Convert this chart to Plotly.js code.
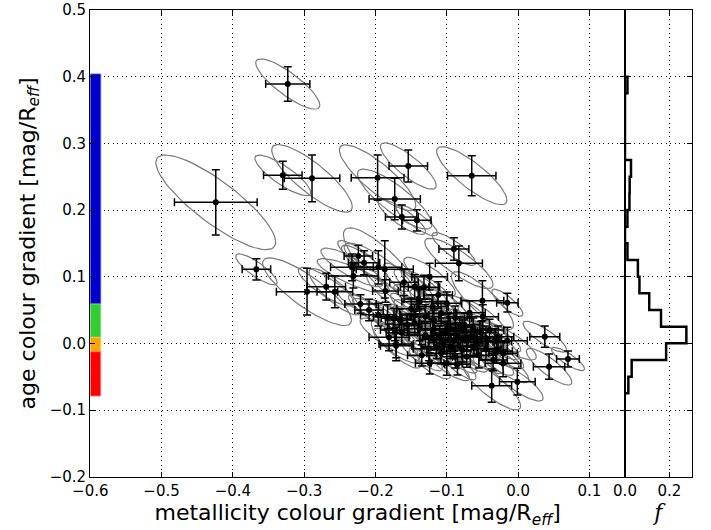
<!DOCTYPE html>
<html><head><meta charset="utf-8">
<script src="https://cdn.plot.ly/plotly-3.0.1.min.js"></script>
<style>html,body{margin:0;padding:0;background:#fff}#chart{width:711px;height:530px}</style>
</head><body><div id="chart"></div>
<script>
// metallicity colour gradient (x) and age colour gradient (y) per galaxy
const metalGrad = [-0.323,-0.330,-0.289,-0.197,-0.154,-0.173,-0.065,-0.424,-0.163,-0.142,
  -0.090,-0.083,-0.367,-0.296,-0.269,-0.257,-0.224,-0.216,-0.233,-0.196,
  -0.187,-0.231,-0.186,-0.221,-0.209,-0.196,-0.181,-0.171,-0.050,-0.015,
  0.0375,0.070,0.0435,-0.001,-0.037,-0.021,-0.085,-0.171,-0.160,-0.124,
  -0.112,-0.145,-0.132,-0.140,-0.138,-0.183,-0.166,-0.174,-0.173,-0.163,
  -0.145,-0.145,-0.0495,-0.063,-0.028,-0.021,-0.015,-0.035,-0.100,-0.124,
  -0.072,-0.114,-0.130,-0.120,-0.110,-0.102,-0.095,-0.090,-0.085,-0.078,
  -0.072,-0.066,-0.058,-0.052,-0.045,-0.040,-0.033,-0.105,-0.118,-0.138,
  -0.082,-0.125,-0.108,-0.095,-0.088,-0.078,-0.062,-0.055,-0.045,-0.030,
  -0.135,-0.130,-0.118,-0.108,-0.098,-0.088,-0.075,-0.068,-0.155,-0.120,
  -0.100,-0.150];
const ageGrad = [0.389,0.252,0.2475,0.2485,0.266,0.2165,0.2515,0.2115,0.1895,0.1845,
  0.1415,0.120,0.111,0.0775,0.085,0.0775,0.131,0.121,0.114,0.114,
  0.111,0.101,0.0785,0.059,0.050,0.043,0.009,-0.001,0.064,0.061,
  0.010,-0.0235,-0.035,-0.0575,-0.0635,-0.030,-0.0315,-0.0035,0.0915,0.100,
  0.0725,0.085,0.084,0.0665,0.0625,0.040,0.035,0.0375,0.020,0.016,
  0.030,0.0425,0.040,0.020,0.010,-0.015,0.004,-0.025,-0.030,-0.030,
  -0.020,-0.005,0.012,0.020,0.008,0.015,0.022,0.004,0.012,0.018,
  0.006,0.010,0.002,0.016,0.008,0.020,0.003,0.001,0.006,0.022,
  0.024,-0.008,-0.015,-0.005,-0.020,-0.010,-0.004,-0.018,-0.008,-0.012,
  -0.018,0.040,0.033,0.045,0.030,0.038,0.028,0.046,0.028,0.055,
  0.060,0.052];
const metalErr = [0.031,0.027,0.039,0.037,0.027,0.036,0.034,0.058,0.023,0.020,
  0.021,0.033,0.020,0.043,0.027,0.025,0.020,0.022,0.030,0.033,
  0.040,0.035,0.018,0.022,0.020,0.025,0.028,0.024,0.030,0.015,
  0.021,0.016,0.022,0.025,0.028,0.025,0.018,0.022,0.020,0.025,
  0.020,0.020,0.022,0.020,0.025,0.020,0.020,0.018,0.020,0.022,
  0.022,0.020,0.022,0.024,0.022,0.020,0.028,0.020,0.022,0.020,
  0.020,0.022,0.022,0.020,0.024,0.020,0.022,0.020,0.024,0.021,
  0.022,0.020,0.023,0.021,0.022,0.020,0.024,0.021,0.020,0.022,
  0.020,0.022,0.020,0.023,0.021,0.022,0.020,0.024,0.021,0.022,
  0.020,0.022,0.021,0.022,0.020,0.023,0.021,0.022,0.020,0.022,
  0.021,0.020];
const ageErr = [0.026,0.021,0.035,0.034,0.024,0.031,0.030,0.049,0.018,0.016,
  0.017,0.026,0.016,0.035,0.020,0.024,0.016,0.018,0.020,0.025,
  0.043,0.018,0.017,0.014,0.016,0.017,0.020,0.025,0.030,0.014,
  0.016,0.012,0.019,0.020,0.025,0.020,0.016,0.018,0.020,0.020,
  0.020,0.018,0.018,0.016,0.018,0.018,0.016,0.015,0.016,0.018,
  0.018,0.016,0.018,0.018,0.016,0.016,0.020,0.016,0.018,0.016,
  0.016,0.018,0.018,0.016,0.018,0.017,0.018,0.016,0.019,0.017,
  0.018,0.016,0.018,0.017,0.018,0.016,0.019,0.017,0.016,0.018,
  0.016,0.018,0.016,0.018,0.017,0.018,0.016,0.019,0.017,0.018,
  0.016,0.018,0.017,0.018,0.016,0.018,0.017,0.018,0.016,0.018,
  0.017,0.016];
const errCorr = -0.84;       // correlation of the two gradient errors
const ellipseScale = 1.45;

// histogram of age colour gradient (fraction f per bin)
const histEdges = [-0.075,-0.05,-0.025,0.0,0.025,0.05,0.075,0.1,0.125,0.15,0.175,0.2,0.225,0.25,0.275,0.3,0.325,0.35,0.375,0.4];
const histFrac  = [0.015,0.030,0.185,0.276,0.162,0.109,0.065,0.058,0.011,0.0,0.011,0.020,0.021,0.027,0.0,0.0,0.0,0.0,0.011];

// class strip on the left edge
const classEdges  = [0.404,0.059,0.009,-0.0125,-0.079];
const classColors = ['#0000cd','#32cd32','#ffa500','#ff0000'];
const classEdgeColors = ['rgba(80,80,230,0.9)','rgba(120,220,120,0.9)','rgba(255,200,100,0.9)','rgba(255,120,120,0.9)'];

// ---- build traces ----
const ex = [], ey = [];
const NT = 64;
for (let i = 0; i < metalGrad.length; i++) {
  const s = Math.sqrt(1 - errCorr*errCorr);
  for (let k = 0; k <= NT; k++) {
    const t = 2*Math.PI*k/NT;
    ex.push(metalGrad[i] + ellipseScale*metalErr[i]*Math.cos(t));
    ey.push(ageGrad[i] + ellipseScale*ageErr[i]*(errCorr*Math.cos(t) + s*Math.sin(t)));
  }
  ex.push(null); ey.push(null);
}

const hx = [0], hy = [histEdges[0]];
for (let i = 0; i < histFrac.length; i++) {
  hx.push(histFrac[i], histFrac[i]);
  hy.push(histEdges[i], histEdges[i+1]);
}
hx.push(0); hy.push(histEdges[histEdges.length-1]);

const cy = [], cw = [], cx = [];
for (let i = 0; i < classColors.length; i++) {
  cy.push((classEdges[i] + classEdges[i+1]) / 2);
  cw.push(classEdges[i] - classEdges[i+1]);
  cx.push(0.0146);
}

const traces = [
  {type:'bar', orientation:'h', x:cx, y:cy, width:cw, base:-0.6,
   marker:{color:classColors, line:{color:classEdgeColors, width:1}},
   xaxis:'x', yaxis:'y', hoverinfo:'skip', showlegend:false},
  {type:'scatter', mode:'lines', x:ex, y:ey, connectgaps:false,
   line:{color:'#7a7a7a', width:1.2}, xaxis:'x', yaxis:'y', hoverinfo:'skip', showlegend:false},
  {type:'scatter', mode:'markers', x:metalGrad, y:ageGrad,
   marker:{color:'#000', size:6},
   error_x:{type:'data', array:metalErr, color:'#000', thickness:1.5, width:4},
   error_y:{type:'data', array:ageErr, color:'#000', thickness:1.5, width:4},
   xaxis:'x', yaxis:'y', showlegend:false},
  {type:'scatter', mode:'lines', x:hx, y:hy, line:{color:'#000', width:2.5},
   xaxis:'x2', yaxis:'y2', showlegend:false}
];

const tickFont = {family:'DejaVu Sans', size:15, color:'#000'};
const common = {
  ticks:'inside', ticklen:5, tickwidth:1, tickcolor:'#000', mirror:'allticks',
  showline:true, linecolor:'#000', linewidth:1.2,
  showgrid:true, gridcolor:'#000', gridwidth:1, griddash:'1px,3.5px',
  zeroline:false, tickfont:tickFont
};
const yDom = [1 - 476.7/530, 1 - 10/530];
const layout = {
  width:711, height:530, margin:{l:0, r:0, t:0, b:0},
  paper_bgcolor:'#fff', plot_bgcolor:'#fff', showlegend:false,
  xaxis: Object.assign({}, common, {
    domain:[90.3/711, 625/711], range:[-0.6, 0.15], anchor:'y',
    tickvals:[-0.6,-0.5,-0.4,-0.3,-0.2,-0.1,0.0,0.1], tickformat:'.1f',
    title:{text:'metallicity colour gradient [mag/R<sub><i>eff</i></sub>]',
      font:{family:'DejaVu Sans', size:22, color:'#000'}, standoff:4}
  }),
  yaxis: Object.assign({}, common, {
    domain:yDom, range:[-0.2, 0.5], anchor:'x',
    tick0:0, dtick:0.1, tickformat:'.1f',
    title:{text:'age colour gradient [mag/R<sub><i>eff</i></sub>]',
      font:{family:'DejaVu Sans', size:22, color:'#000'}, standoff:8}
  }),
  xaxis2: Object.assign({}, common, {
    domain:[625/711, 691.7/711], range:[0, 0.3], anchor:'y2',
    tickvals:[0, 0.2], ticktext:['0.0','0.2'],
    zeroline:true, zerolinecolor:'#000', zerolinewidth:2,
    title:{text:'<i>f</i>', font:{family:'DejaVu Serif', size:22, color:'#000'}, standoff:4}
  }),
  yaxis2: Object.assign({}, common, {
    domain:yDom, range:[-0.2, 0.5], anchor:'x2',
    tick0:0, dtick:0.1, showticklabels:false
  })
};
Plotly.newPlot('chart', traces, layout, {staticPlot:true, displayModeBar:false});
</script></body></html>
